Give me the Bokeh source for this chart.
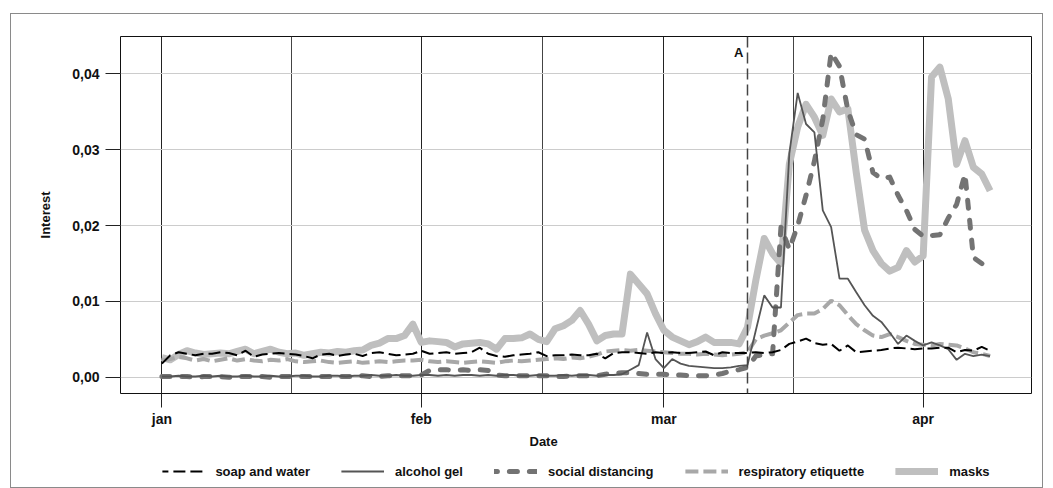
import pandas as pd
from bokeh.plotting import figure
from bokeh.layouts import column
from bokeh.models import (ColumnDataSource, FixedTicker, CustomJSTickFormatter, Span, Label,
                          Legend, LegendItem, Range1d, Title)
from bokeh.embed import file_html
from bokeh.resources import INLINE

# ---------------- data (daily, 2020-01-01 .. 2020-04-09) ----------------
dates = pd.date_range("2020-01-01", "2020-04-09", freq="D")

soap_and_water = [
    0.0018, 0.0029, 0.0033, 0.0031, 0.0029, 0.0031, 0.0031, 0.0033, 0.0032, 0.0029,
    0.0035, 0.0027, 0.0030, 0.0031, 0.0032, 0.0031, 0.0030, 0.0028, 0.0025, 0.0030,
    0.0031, 0.0028, 0.0030, 0.0031, 0.0028, 0.0032, 0.0033, 0.0031, 0.0029, 0.0030,
    0.0031, 0.0035, 0.0031, 0.0032, 0.0033, 0.0031, 0.0032, 0.0033, 0.0039, 0.0031,
    0.0028, 0.0027, 0.0029, 0.0030, 0.0031, 0.0033, 0.0028, 0.0029, 0.0029, 0.0030,
    0.0029, 0.0029, 0.0031, 0.0025, 0.0032, 0.0033, 0.0033, 0.0032, 0.0031, 0.0033,
    0.0032, 0.0033, 0.0032, 0.0032, 0.0033, 0.0034, 0.0029, 0.0033, 0.0032, 0.0032,
    0.0032, 0.0033, 0.0032, 0.0033, 0.0036, 0.0044, 0.0047, 0.0051, 0.0045, 0.0043,
    0.0044, 0.0035, 0.0042, 0.0033, 0.0034, 0.0035, 0.0036, 0.0038, 0.0039, 0.0038,
    0.0037, 0.0038, 0.0038, 0.0039, 0.0039, 0.0033, 0.0036, 0.0035, 0.0040, 0.0035,
]

alcohol_gel = [
    0.0001, 0.0001, 0.0002, 0.0001, 0.0001, 0.0002, 0.0001, 0.0002, 0.0001, 0.0001,
    0.0002, 0.0001, 0.0001, 0.0002, 0.0001, 0.0001, 0.0002, 0.0002, 0.0001, 0.0001,
    0.0002, 0.0002, 0.0001, 0.0002, 0.0002, 0.0003, 0.0002, 0.0002, 0.0003, 0.0002,
    0.0002, 0.0003, 0.0003, 0.0002, 0.0003, 0.0002, 0.0003, 0.0003, 0.0002, 0.0003,
    0.0002, 0.0003, 0.0003, 0.0002, 0.0002, 0.0003, 0.0002, 0.0002, 0.0003, 0.0002,
    0.0003, 0.0003, 0.0002, 0.0003, 0.0003, 0.0004, 0.0010, 0.0016, 0.0059, 0.0024,
    0.0012, 0.0024, 0.0018, 0.0015, 0.0014, 0.0013, 0.0012, 0.0012, 0.0013, 0.0015,
    0.0016, 0.0062, 0.0108, 0.0092, 0.0092, 0.0295, 0.0375, 0.0334, 0.0323, 0.0220,
    0.0198, 0.0130, 0.0130, 0.0112, 0.0095, 0.0081, 0.0073, 0.0059, 0.0044, 0.0055,
    0.0048, 0.0042, 0.0046, 0.0042, 0.0037, 0.0023, 0.0031, 0.0028, 0.0030, 0.0028,
]

social_distancing = [
    0.0001, 0.0001, 0.0001, 0.0001, 0.0000, 0.0001, 0.0001, 0.0001, 0.0000, 0.0001,
    0.0001, 0.0001, 0.0001, 0.0000, 0.0001, 0.0001, 0.0001, 0.0001, 0.0001, 0.0001,
    0.0001, 0.0001, 0.0001, 0.0001, 0.0002, 0.0001, 0.0001, 0.0002, 0.0002, 0.0002,
    0.0002, 0.0003, 0.0009, 0.0010, 0.0010, 0.0009, 0.0010, 0.0009, 0.0010, 0.0009,
    0.0003, 0.0002, 0.0002, 0.0002, 0.0002, 0.0002, 0.0002, 0.0001, 0.0001, 0.0002,
    0.0002, 0.0002, 0.0002, 0.0004, 0.0005, 0.0006, 0.0006, 0.0005, 0.0004, 0.0004,
    0.0004, 0.0003, 0.0003, 0.0002, 0.0002, 0.0002, 0.0003, 0.0005, 0.0008, 0.0010,
    0.0013, 0.0028, 0.0030, 0.0031, 0.0198, 0.0169, 0.0200, 0.0240, 0.0285, 0.0340,
    0.0428, 0.0410, 0.0352, 0.0320, 0.0314, 0.0270, 0.0262, 0.0264, 0.0240, 0.0220,
    0.0195, 0.0186, 0.0187, 0.0188, 0.0210, 0.0228, 0.0268, 0.0158, 0.0150, 0.0141,
]

respiratory_etiquette = [
    0.0022, 0.0024, 0.0027, 0.0025, 0.0022, 0.0024, 0.0021, 0.0023, 0.0025, 0.0022,
    0.0024, 0.0022, 0.0021, 0.0023, 0.0022, 0.0024, 0.0021, 0.0020, 0.0021, 0.0022,
    0.0020, 0.0019, 0.0020, 0.0021, 0.0019, 0.0020, 0.0021, 0.0020, 0.0021, 0.0022,
    0.0022, 0.0023, 0.0021, 0.0020, 0.0021, 0.0020, 0.0019, 0.0020, 0.0021, 0.0020,
    0.0019, 0.0021, 0.0022, 0.0021, 0.0022, 0.0023, 0.0024, 0.0025, 0.0024, 0.0026,
    0.0025, 0.0027, 0.0030, 0.0034, 0.0035, 0.0036, 0.0035, 0.0036, 0.0035, 0.0034,
    0.0033, 0.0032, 0.0031, 0.0031, 0.0030, 0.0031, 0.0030, 0.0029, 0.0030, 0.0031,
    0.0033, 0.0050, 0.0055, 0.0058, 0.0062, 0.0072, 0.0082, 0.0084, 0.0084, 0.0090,
    0.0101, 0.0095, 0.0082, 0.0070, 0.0062, 0.0055, 0.0053, 0.0057, 0.0053, 0.0048,
    0.0044, 0.0043, 0.0042, 0.0044, 0.0043, 0.0042, 0.0038, 0.0033, 0.0031, 0.0028,
]

masks = [
    0.0026, 0.0023, 0.0030, 0.0035, 0.0032, 0.0030, 0.0031, 0.0032, 0.0031, 0.0034,
    0.0037, 0.0031, 0.0034, 0.0037, 0.0033, 0.0031, 0.0032, 0.0029, 0.0031, 0.0033,
    0.0032, 0.0034, 0.0033, 0.0035, 0.0036, 0.0042, 0.0045, 0.0051, 0.0051, 0.0055,
    0.0070, 0.0046, 0.0048, 0.0047, 0.0046, 0.0040, 0.0044, 0.0045, 0.0046, 0.0044,
    0.0037, 0.0051, 0.0051, 0.0052, 0.0057, 0.0050, 0.0047, 0.0064, 0.0068, 0.0075,
    0.0088, 0.0070, 0.0048, 0.0055, 0.0057, 0.0057, 0.0136, 0.0123, 0.0110, 0.0084,
    0.0062, 0.0053, 0.0048, 0.0043, 0.0047, 0.0053, 0.0046, 0.0046, 0.0046, 0.0044,
    0.0066, 0.0128, 0.0183, 0.0163, 0.0150, 0.0281, 0.0330, 0.0360, 0.0343, 0.0319,
    0.0367, 0.0350, 0.0354, 0.0270, 0.0194, 0.0167, 0.0150, 0.0140, 0.0145, 0.0167,
    0.0152, 0.0160, 0.0396, 0.0409, 0.0367, 0.0281, 0.0312, 0.0277, 0.0268, 0.0246,
]

series_names = ["soap and water", "alcohol gel", "social distancing",
                "respiratory etiquette", "masks"]
y_ticks = [0.0, 0.01, 0.02, 0.03, 0.04]
month_labels = ["jan", "feb", "mar", "apr", "may", "jun", "jul", "aug", "sep", "oct", "nov", "dec"]
event_date = "2020-03-11"
event_label = "A"


def ms(s):
    return pd.Timestamp(s).timestamp() * 1000.0


src = ColumnDataSource(dict(date=dates, soap=soap_and_water, alcohol=alcohol_gel,
                            social=social_distancing, resp=respiratory_etiquette,
                            masks=masks))

FONT = "Liberation Sans"
INK = "#111111"

STYLES = {
    "masks": dict(line_color="#bfbfbf", line_width=7, line_join="round"),
    "resp": dict(line_color="#a8a8a8", line_width=4, line_dash="13 5"),
    "social": dict(line_color="#737373", line_width=5, line_dash="8 12",
                   line_cap="round", line_join="round"),
    "alcohol": dict(line_color="#555555", line_width=1.8),
    "soap": dict(line_color="#000000", line_width=2, line_dash="12 5"),
}
LEGEND_DASH_OFFSET = {"soap": 6, "social": 5}

p = figure(width=1031, height=441, x_axis_type="datetime",
           x_range=Range1d(ms("2019-12-27 01:12"), ms("2020-04-13 22:48")),
           y_range=Range1d(-0.00214, 0.04494),
           output_backend="svg", toolbar_location=None,
           min_border_left=109, min_border_right=11, min_border_top=22, min_border_bottom=62)

p.background_fill_color = "white"
p.border_fill_color = "white"
p.outline_line_color = INK
p.outline_line_width = 1

for key in ["masks", "resp", "social", "alcohol", "soap"]:
    p.line("date", key, source=src, **STYLES[key])

# axes / ticks
xticker = FixedTicker(ticks=[ms("2020-01-01"), ms("2020-02-01"), ms("2020-03-01"), ms("2020-04-01")],
                      minor_ticks=[ms("2020-01-16 12:00"), ms("2020-02-15 12:00"), ms("2020-03-16 12:00")])
p.xaxis.ticker = xticker
p.xgrid.ticker = xticker
p.xaxis.formatter = CustomJSTickFormatter(args=dict(m=month_labels),
                                          code="return m[new Date(tick).getUTCMonth()];")
yticker = FixedTicker(ticks=y_ticks, minor_ticks=[])
p.yaxis.ticker = yticker
p.ygrid.ticker = yticker
p.yaxis.formatter = CustomJSTickFormatter(code="return tick.toFixed(2).replace('.', ',');")

p.xgrid.grid_line_color = "#222222"
p.xgrid.grid_line_width = 1
p.xgrid.minor_grid_line_color = "#444444"
p.xgrid.minor_grid_line_width = 1
p.ygrid.grid_line_color = "#cccccc"
p.ygrid.grid_line_width = 1

for ax in (p.xaxis[0], p.yaxis[0]):
    ax.axis_line_color = None
    ax.major_tick_in = 0
    ax.major_tick_line_color = "#222222"
    ax.minor_tick_line_color = None
    ax.major_label_text_font = FONT
    ax.major_label_text_font_style = "bold"
    ax.major_label_text_font_size = "14px"
    ax.major_label_text_color = INK
    ax.axis_label_text_font = FONT
    ax.axis_label_text_font_style = "bold"
    ax.axis_label_text_font_size = "13px"
    ax.axis_label_text_color = INK

p.xaxis.major_tick_out = 14
p.xaxis.major_label_standoff = 3
p.yaxis.major_tick_out = 15
p.yaxis.major_label_standoff = 6
p.yaxis.axis_label = "Interest"
p.yaxis.axis_label_standoff = 16

# x axis title (as a title in the lower panel, placed like the reference)
p.add_layout(Title(text="Date", align="left", offset=409, standoff=9, vertical_align="top",
                   text_font=FONT, text_font_style="bold", text_font_size="13px",
                   text_color=INK), "below")

# event marker
p.add_layout(Span(location=ms(event_date), dimension="height", line_color="#444444",
                  line_width=1.5, line_dash="11 5"))
p.add_layout(Label(x=ms(event_date), y=0.0428, text=event_label, x_offset=-4,
                   text_align="right", text_baseline="middle", text_font=FONT,
                   text_font_style="bold", text_font_size="13px", text_color=INK))

# legend figure below the chart (same series, drawn outside its visible range)
leg = figure(width=1031, height=32, output_backend="svg", toolbar_location=None,
             x_axis_location=None, y_axis_location=None,
             min_border_left=97, min_border_right=0, min_border_top=0, min_border_bottom=0,
             x_range=Range1d(0, 1), y_range=Range1d(0, 1))
leg.outline_line_color = None
leg.grid.visible = False
leg.background_fill_color = "white"
leg.border_fill_color = "white"

legend_keys = ["soap", "alcohol", "social", "resp", "masks"]
items = []
for key, name in zip(legend_keys, series_names):
    r = leg.line("date", key, source=src, line_dash_offset=LEGEND_DASH_OFFSET.get(key, 0),
                 **STYLES[key])
    items.append(LegendItem(label=name, renderers=[r]))

legend = Legend(items=items, orientation="horizontal", location="center",
                glyph_width=43, glyph_height=20, label_standoff=11, spacing=31,
                margin=0, padding=6, border_line_color=None, background_fill_alpha=0,
                label_text_font=FONT, label_text_font_style="bold", label_text_font_size="13px",
                label_text_color=INK)
leg.add_layout(legend)

layout = column(p, leg, spacing=0, margin=(14, 0, 0, 11),
                styles={"outline": "1.5px solid #8a8a8a"})

open("out.html", "w").write(file_html(layout, INLINE))
